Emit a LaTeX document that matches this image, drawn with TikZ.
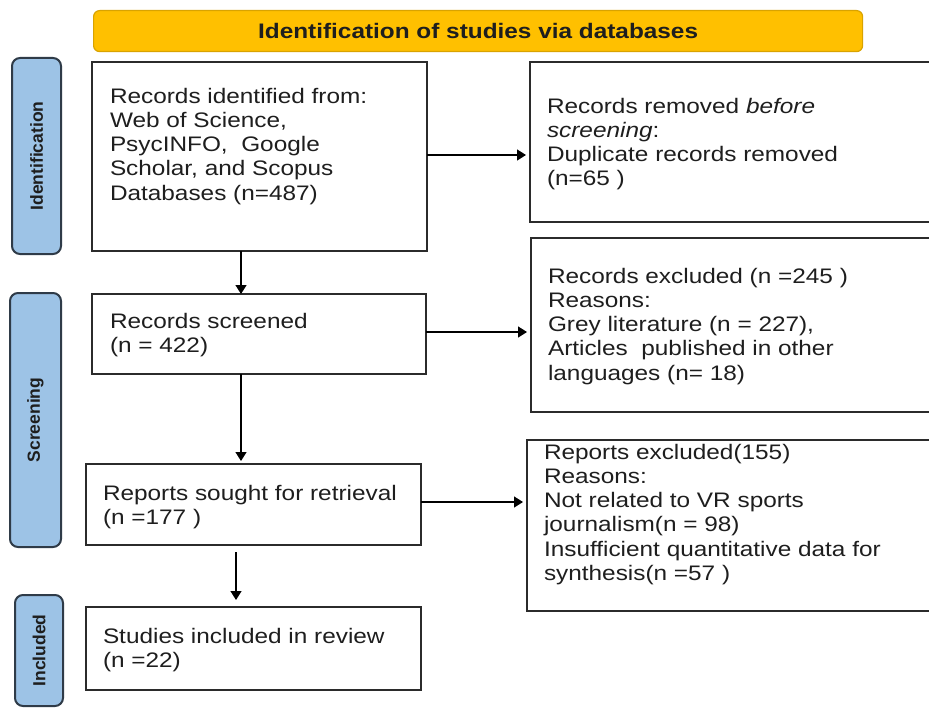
\documentclass[tikz,border=0pt]{standalone}
\usepackage{fontspec}
\setmainfont{Liberation Sans}[FakeStretch=1.16]
\newfontfamily\sidefont{Liberation Sans}
\usetikzlibrary{arrows.meta,calc}
\definecolor{bannerfill}{HTML}{FFC000}
\definecolor{bannerdraw}{HTML}{D9A300}
\definecolor{sidefill}{HTML}{9DC3E6}
\definecolor{sidedraw}{HTML}{2F3B48}
\definecolor{boxdraw}{HTML}{2B2B2B}
\definecolor{txtcol}{HTML}{1E1E1E}
\tikzset{
  flowbox/.style={draw=boxdraw, line width=2pt, fill=white, inner sep=0pt, outer sep=0pt, anchor=north west},
  sidebox/.style={draw=sidedraw, line width=2pt, fill=sidefill, rounded corners=8pt, inner sep=0pt, outer sep=0pt, rotate=90,
     font=\sidefont\fontsize{17.5}{20}\selectfont\bfseries, text=txtcol},
  banner/.style={draw=bannerdraw, line width=1.2pt, fill=bannerfill, rounded corners=6pt, inner sep=0pt, anchor=north west,
     font=\fontsize{21}{24}\selectfont\bfseries, text=txtcol},
  txt/.style={anchor=base west, inner sep=0pt, outer sep=0pt, text=txtcol, font=\fontsize{21}{24.3}\selectfont},
  arr/.style={draw=black, line width=1.3pt, -{Triangle[length=9pt,width=11pt]}}
}
\newcommand{\tlines}[1]{\parbox[t]{400pt}{\raggedright #1}}
\begin{document}
\begin{tikzpicture}[x=1pt,y=-1pt]
\useasboundingbox (0,0) rectangle (929,709);
\clip (0,0) rectangle (929,709);
\fill[white] (0,0) rectangle (929,709);

% banner
\node[banner, minimum width=769pt, minimum height=41pt] (ban) at (93,10) {Identification of studies via databases};

% side labels
\node[sidebox, minimum width=196pt, minimum height=49pt] (sid) at (36.5,156) {Identification};
\node[sidebox, minimum width=254pt, minimum height=51pt] (scr) at (35.5,420) {Screening};
\node[sidebox, minimum width=111pt, minimum height=48pt] (inc) at (39,650.5) {Included};

% left boxes
\node[flowbox, minimum width=335pt, minimum height=189pt] (b1) at (92,62) {};
\node[flowbox, minimum width=334pt, minimum height=80pt] (b2) at (92,294) {};
\node[flowbox, minimum width=335pt, minimum height=81pt] (b3) at (86,464) {};
\node[flowbox, minimum width=335pt, minimum height=83pt] (b4) at (86,607) {};

% right boxes
\node[flowbox, minimum width=420pt, minimum height=160pt] (r1) at (530,62) {};
\node[flowbox, minimum width=420pt, minimum height=174pt] (r2) at (531,238) {};
\node[flowbox, minimum width=420pt, minimum height=171pt] (r3) at (527,440) {};

% texts
\node[txt] (t1) at (110,103) {\tlines{Records identified from:\\Web of Science,\\PsycINFO,\ \ Google\\Scholar, and Scopus\\Databases (n=487)}};
\node[txt] (t2) at (110,328) {\tlines{Records screened\\(n = 422)}};
\node[txt] (t3) at (103,500) {\tlines{Reports sought for retrieval\\(n =177 )}};
\node[txt] (t4) at (103,643) {\tlines{Studies included in review\\(n =22)}};
\node[txt] (tr1) at (547,113) {\tlines{Records removed \textit{before}\\\textit{screening}:\\Duplicate records removed\\(n=65 )}};
\node[txt] (tr2) at (548,283) {\tlines{Records excluded (n =245 )\\Reasons:\\Grey literature (n = 227),\\Articles\ \ published in other\\languages (n= 18)}};
\node[txt] (tr3) at (544,459) {\tlines{Reports excluded(155)\\Reasons:\\Not related to VR sports\\journalism(n = 98)\\Insufficient quantitative data for\\synthesis(n =57 )}};

% vertical arrows
\draw[arr] ([xshift=149pt]b1.south west) -- ([xshift=149pt]b1.south west |- b2.north);
\draw[arr, shorten >=3pt] ([xshift=149pt]b2.south west) -- ([xshift=149pt]b2.south west |- b3.north);
\draw[arr, shorten <=7pt, shorten >=7pt] ([xshift=150pt]b3.south west) -- ([xshift=150pt]b3.south west |- b4.north);

% horizontal arrows
\draw[arr, shorten >=4pt] ([yshift=1.5pt]b1.east) -- ([yshift=1.5pt]b1.east -| r1.west);
\draw[arr, shorten >=4pt] ([yshift=2pt]b2.east) -- ([yshift=2pt]b2.east -| r2.west);
\draw[arr, shorten >=4pt] ([yshift=2.5pt]b3.east) -- ([yshift=2.5pt]b3.east -| r3.west);
\end{tikzpicture}
\end{document}
